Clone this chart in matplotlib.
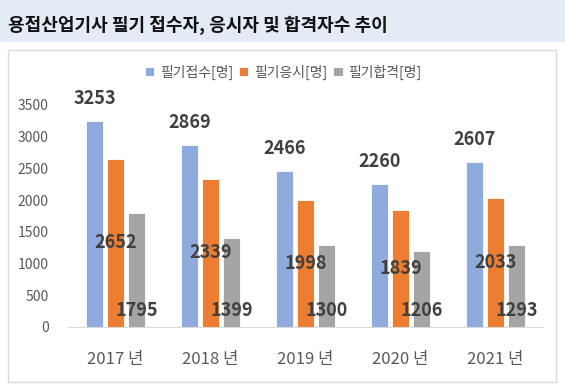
import numpy as np
import matplotlib.pyplot as plt
from matplotlib.patches import Rectangle

plt.rcParams['font.family'] = ['Noto Sans CJK KR', 'DejaVu Sans']

years = ['2017 년', '2018 년', '2019 년', '2020 년', '2021 년']
applied = [3253, 2869, 2466, 2260, 2607]
took = [2652, 2339, 1998, 1839, 2033]
passed = [1795, 1399, 1300, 1206, 1293]
names = ['필기접수[명]', '필기응시[명]', '필기합격[명]']
colors = ['#8FAADC', '#ED7D31', '#A5A5A5']

fig = plt.figure(figsize=(5.65, 3.91), dpi=100)

## header band and chart frame (behind the axes)
fig.patches.append(Rectangle((0, 1 - 42/391), 1, 42/391, transform=fig.transFigure,
                             facecolor='#E4EAF6', edgecolor='none', zorder=-2))
fig.patches.append(Rectangle((8/565, 9/391), 548/565, 332/391, transform=fig.transFigure,
                             facecolor='white', edgecolor='#D9D9D9', linewidth=1, zorder=-2))
fig.text(8/565, 1 - 25/391, '용접산업기사 필기 접수자, 응시자 및 합격자수 추이',
         fontsize=13, fontweight='bold', color='#111111', va='center', ha='left')

ax = fig.add_axes([68/565, 64/391, 475/565, 222/391])
ax.patch.set_visible(False)
x = np.arange(len(years))
w = 0.18
off = 0.221
ax.bar(x - off, applied, w, color=colors[0], edgecolor='white', linewidth=0.6, label=names[0])
ax.bar(x, took, w, color=colors[1], edgecolor='white', linewidth=0.6, label=names[1])
ax.bar(x + off, passed, w, color=colors[2], edgecolor='white', linewidth=0.6, label=names[2])

lab = dict(fontsize=13, fontweight='bold', color='#404040', ha='center', va='center')
for xi, v in zip(x, applied):
    ax.annotate(str(v), (xi - off, v), xytext=(0, 16), textcoords='offset points', **lab)
for xi, v in zip(x, took):
    ax.text(xi, v / 2, str(v), **lab)
for xi, v in zip(x, passed):
    ax.annotate(str(v), (xi + off, 0), xytext=(0, 12), textcoords='offset points', **lab)

ax.set_xlim(-0.5, 4.5)
ax.set_ylim(0, 3500)
ax.set_yticks(np.arange(0, 3501, 500))
ax.set_xticks(x)
ax.set_xticklabels(years, fontsize=12, color='#595959')
ax.tick_params(axis='y', labelsize=10, labelcolor='#595959', length=0, pad=14)
ax.tick_params(axis='x', length=0, pad=17)
for s in ['top', 'right', 'left']:
    ax.spines[s].set_visible(False)
ax.spines['bottom'].set_color('#D9D9D9')

fig.legend(loc='center', bbox_to_anchor=(283/565, 1 - 72/391), ncol=3, frameon=False,
           fontsize=10, labelcolor='#595959', handlelength=0.7, handleheight=0.7,
           handletextpad=0.4, columnspacing=0.4)

plt.savefig('out.png', dpi=100)
